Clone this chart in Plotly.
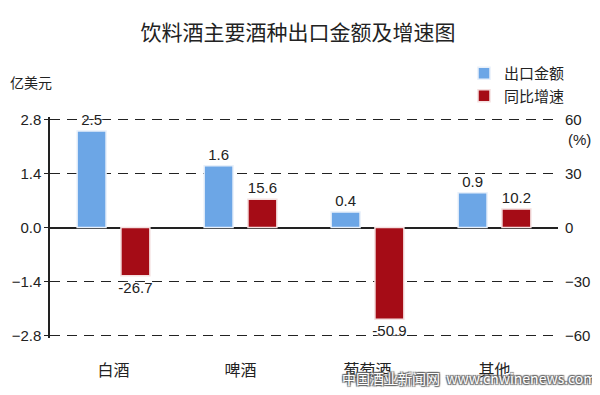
import plotly.graph_objects as go

categories = ["白酒", "啤酒", "葡萄酒", "其他"]
export_value = [2.5, 1.6, 0.4, 0.9]        # 亿美元
growth_rate = [-26.7, 15.6, -50.9, 10.2]   # %
left_ticks = [-2.8, -1.4, 0.0, 1.4, 2.8]
right_ticks = [-60, -30, 0, 30, 60]

FONT = "Noto Sans CJK SC, Noto Sans, sans-serif"
NUMFONT = "Liberation Sans, Arial, sans-serif"
BLUE = "#6CA6E6"
RED = "#A50C16"
HALO = "0 0 2px white, 0 0 2px white, 0 0 3px white"

# the page body has an 8px margin; lay out in page pixels and shift
OFF = 8
W, H = 600 - OFF, 395 - OFF
PAD = 2.3  # small range padding so the edge gridlines are drawn
L, R, T, B = 50 - OFF, 42, 119 - OFF - PAD, 59 - PAD


def pxx(x):
    return (x - OFF - L) / (W - L - R)


def pxy(y):
    return (H - B - (y - OFF)) / (H - T - B)


fig = go.Figure()
fig.add_trace(go.Bar(
    x=categories, y=export_value, name="出口金额", yaxis="y", offsetgroup="1",
    marker=dict(color=BLUE, line=dict(color="#E8F0FA", width=1.5)),
    text=[f"{v:.1f}" for v in export_value], textposition="outside",
    constraintext="none",
    textfont=dict(size=15, color="#222", family=NUMFONT, shadow=HALO), cliponaxis=False,
))
fig.add_trace(go.Bar(
    x=categories, y=growth_rate, name="同比增速", yaxis="y2", offsetgroup="2",
    marker=dict(color=RED, line=dict(color="#F4E0E0", width=1.5)),
    text=[f"{v:.1f}" for v in growth_rate], textposition="outside",
    constraintext="none",
    textfont=dict(size=15, color="#222", family=NUMFONT, shadow=HALO), cliponaxis=False,
))

fig.update_layout(
    width=W, height=H,
    margin=dict(l=L, r=R, t=T, b=B, autoexpand=False),
    paper_bgcolor="white", plot_bgcolor="white",
    font=dict(family=FONT, color="#222"),
    title=dict(text="饮料酒主要酒种出口金额及增速图", x=(298 - OFF) / W, xanchor="center",
               y=1 - (33 - OFF) / H, yanchor="middle", font=dict(size=21, color="#222")),
    barmode="group", bargap=0.31, bargroupgap=0.34,
    showlegend=True,
    legend=dict(x=(464 - OFF) / W, y=1 - (57 - OFF) / H, yanchor="top", xanchor="left",
                xref="container", yref="container",
                orientation="v", font=dict(size=15, color="#222"),
                bgcolor="rgba(0,0,0,0)", itemwidth=30, tracegroupgap=0,
                borderwidth=0),
    xaxis=dict(showline=False, showgrid=False, ticks="", tickfont=dict(size=16, color="#222"),
               ticklabelstandoff=21, zeroline=False),
    yaxis=dict(range=[-2.86, 2.86], tickvals=left_ticks, tickformat=".1f",
               showline=True, linecolor="#222", linewidth=1.5, ticks="outside",
               ticklen=4, tickcolor="#222", tickfont=dict(size=15, color="#222", family=NUMFONT),
               showgrid=True, gridcolor="#222", gridwidth=1.3, griddash="10px,7px",
               zeroline=True, zerolinecolor="#222", zerolinewidth=1.5),
    yaxis2=dict(range=[-61.286, 61.286], tickvals=right_ticks, overlaying="y", side="right",
                showline=False, showgrid=False, zeroline=False, ticks="",
                ticklabelstandoff=6,
                tickfont=dict(size=15, color="#222", family=NUMFONT)),
    annotations=[
        dict(text="亿美元", x=pxx(8), y=pxy(82), showarrow=False, xref="paper", yref="paper",
             font=dict(size=14, color="#222"), xanchor="left", yanchor="middle"),
        dict(text="(%)", x=pxx(566), y=pxy(139), showarrow=False, xref="paper", yref="paper",
             font=dict(size=15, color="#222", family=NUMFONT), xanchor="left", yanchor="middle"),
        dict(text="中国酒业新闻网  www.cnwinenews.com", x=pxx(340), y=pxy(378), showarrow=False,
             xref="paper", yref="paper",
             font=dict(size=14, color="white",
                       shadow="1px 1px 1px #666, -1px -1px 1px #666, 1px -1px 1px #666, -1px 1px 1px #666"),
             xanchor="left", yanchor="middle"),
    ],
)

fig.write_html("out.html")
